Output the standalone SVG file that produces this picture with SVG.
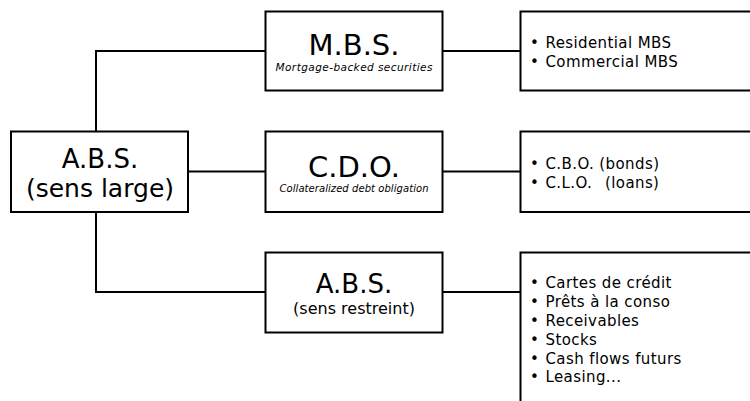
<svg xmlns="http://www.w3.org/2000/svg" width="750" height="401" viewBox="0 0 750 401">
<style>
.box{fill:#fff;stroke:#000;stroke-width:2}
.con{fill:none;stroke:#000;stroke-width:2}
text{font-family:"DejaVu Sans","Liberation Sans",sans-serif;fill:#000}
.c{text-anchor:middle}
.it{font-style:italic}
.li{font-size:15px;letter-spacing:0.4px}
</style>
<g id="connectors">
<path class="con" d="M96,131 V51 H266"/>
<path class="con" d="M96,212 V292 H266"/>
<path class="con" d="M188,171.5 H266"/>
<path class="con" d="M442,51 H521"/>
<path class="con" d="M442,171.5 H521"/>
<path class="con" d="M442,292 H521"/>
</g>
<g id="abs-large">
<rect class="box" x="11" y="131.5" width="177" height="80.5"/>
<text class="c" x="100" y="168" font-size="26">A.B.S.</text>
<text class="c" x="100" y="197" font-size="25">(sens large)</text>
</g>
<g id="mbs">
<rect class="box" x="265.5" y="11.5" width="177" height="79"/>
<text class="c" x="354" y="55" font-size="29">M.B.S.</text>
<text class="c it" x="354" y="71" font-size="10.5" textLength="157" lengthAdjust="spacing">Mortgage-backed securities</text>
</g>
<g id="cdo">
<rect class="box" x="265.5" y="131.5" width="177" height="80.5"/>
<text class="c" x="354" y="176.5" font-size="29">C.D.O.</text>
<text class="c it" x="354" y="192" font-size="10" textLength="149" lengthAdjust="spacing">Collateralized debt obligation</text>
</g>
<g id="abs-restreint">
<rect class="box" x="265.5" y="252.5" width="177" height="80"/>
<text class="c" x="354" y="293" font-size="26">A.B.S.</text>
<text class="c" x="354" y="314" font-size="16">(sens restreint)</text>
</g>
<g id="mbs-list">
<rect class="box" x="520.5" y="11.5" width="240" height="79"/>
<text class="li" y="47.5"><tspan x="530">•</tspan><tspan x="545.5">Residential MBS</tspan></text>
<text class="li" y="66.5"><tspan x="530">•</tspan><tspan x="545.5">Commercial MBS</tspan></text>
</g>
<g id="cdo-list">
<rect class="box" x="520.5" y="131.5" width="240" height="80.5"/>
<text class="li" y="168.5"><tspan x="530">•</tspan><tspan x="545.5">C.B.O. (bonds)</tspan></text>
<text class="li" y="187.5"><tspan x="530">•</tspan><tspan x="545.5">C.L.O.</tspan><tspan x="605">(loans)</tspan></text>
</g>
<g id="abs-list">
<rect class="box" x="520.5" y="252.5" width="240" height="160"/>
<text class="li" y="287.5"><tspan x="530">•</tspan><tspan x="545.5">Cartes de crédit</tspan></text>
<text class="li" y="306.5"><tspan x="530">•</tspan><tspan x="545.5">Prêts à la conso</tspan></text>
<text class="li" y="325.5"><tspan x="530">•</tspan><tspan x="545.5">Receivables</tspan></text>
<text class="li" y="344.5"><tspan x="530">•</tspan><tspan x="545.5">Stocks</tspan></text>
<text class="li" y="363.5"><tspan x="530">•</tspan><tspan x="545.5">Cash flows futurs</tspan></text>
<text class="li" y="382"><tspan x="530">•</tspan><tspan x="545.5">Leasing...</tspan></text>
</g>
</svg>
